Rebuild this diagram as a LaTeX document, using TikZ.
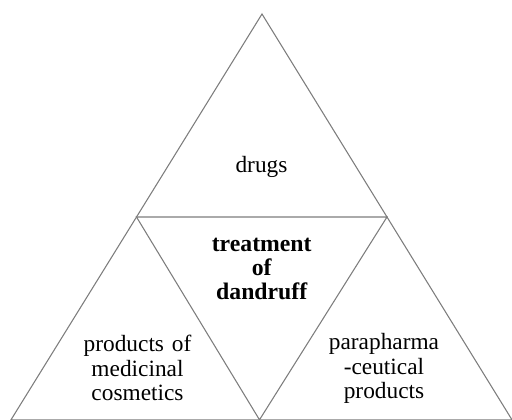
\documentclass[tikz,border=0pt]{standalone}
\usepackage{fontspec}
\setmainfont{Liberation Serif}
\definecolor{edgegray}{RGB}{125,125,125}
\tikzset{
  edge/.style={draw=edgegray, line width=0.8pt, line join=miter},
  txt/.style={anchor=base, align=center, text width=110pt, inner sep=0pt,
    font=\fontsize{17.5}{18.1}\selectfont},
  txtbold/.style={txt, font=\fontsize{17.8}{17.7}\selectfont\bfseries}
}
\begin{document}
\begin{tikzpicture}[x=0.75pt,y=0.75pt,yscale=-1,xscale=1]
\useasboundingbox (0,0) rectangle (512,420);

% vertices of the big triangle and its midpoints
\coordinate (top) at (262,14);
\coordinate (midL) at (136.5,217);
\coordinate (midR) at (387,217);
\coordinate (botL) at (11,419.8);
\coordinate (botM) at (259.5,419.8);
\coordinate (botR) at (512,419.8);

% outer triangle
\draw [edge] (top) -- (midL) -- (botL) -- (botR) -- (midR) -- cycle ;
% inner (inverted) triangle
\draw [edge] (midL) -- (midR) -- (botM) -- cycle ;

% Text Node
\node [txt] (drugs) at (261.5,173) {drugs};
% Text Node
\node [txtbold] (dandruff) at (261.7,252) {treatment\\of\\dandruff};
% Text Node
\node [txt] (cosmetics) at (137.5,352) {products of\\medicinal\\cosmetics};
% Text Node
\node [txt] (parapharm) at (384,350) {parapharma\\-ceutical\\products};

\end{tikzpicture}
\end{document}
